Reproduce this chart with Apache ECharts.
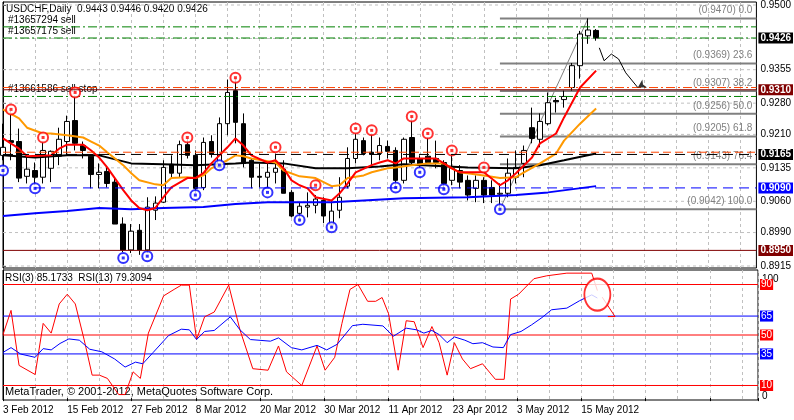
<!DOCTYPE html>
<html>
<head>
<meta charset="utf-8">
<script src="https://cdn.jsdelivr.net/npm/echarts@6/dist/echarts.min.js"></script>
<style>
  html, body { margin: 0; padding: 0; background: #fff; }
  #chart { width: 794px; height: 420px; }
</style>
</head>
<body>
<div id="chart"></div>
<script>
// daily bars, [open, close, low, high], 3 Feb .. 17 May 2012
var candles = [
  [0.9163,0.9181,0.9152,0.9234],[0.9196,0.9192,0.9152,0.9263],[0.9194,0.9112,0.9103,0.9223],
  [0.9116,0.9132,0.9100,0.9158],[0.9129,0.9114,0.9096,0.9147],[0.9114,0.9174,0.9100,0.9192],
  [0.9134,0.9172,0.9103,0.9174],[0.9161,0.9199,0.9141,0.9225],[0.9194,0.9239,0.9163,0.9252],
  [0.9241,0.9190,0.9174,0.9297],[0.9185,0.9174,0.9156,0.9194],[0.9161,0.9120,0.9089,0.9161],
  [0.9120,0.9125,0.9089,0.9145],[0.9127,0.9100,0.9091,0.9136],[0.9103,0.9009,0.9009,0.9114],
  [0.9009,0.8951,0.8946,0.9024],[0.8951,0.8993,0.8944,0.9009],[0.8995,0.8951,0.8940,0.9009],
  [0.8951,0.9047,0.8944,0.9069],[0.9040,0.9056,0.9018,0.9071],[0.9058,0.9136,0.9056,0.9152],
  [0.9143,0.9123,0.9114,0.9163],[0.9123,0.9187,0.9114,0.9196],[0.9187,0.9163,0.9156,0.9203],
  [0.9163,0.9089,0.9078,0.9174],[0.9091,0.9192,0.9085,0.9203],[0.9194,0.9165,0.9158,0.9208],
  [0.9136,0.9234,0.9134,0.9248],[0.9234,0.9304,0.9208,0.9333],[0.9308,0.9237,0.9190,0.9337],
  [0.9234,0.9145,0.9136,0.9257],[0.9152,0.9114,0.9089,0.9156],[0.9116,0.9114,0.9091,0.9145],
  [0.9114,0.9125,0.9091,0.9145],[0.9125,0.9134,0.9100,0.9167],[0.9132,0.9078,0.9078,0.9152],
  [0.9080,0.9027,0.9024,0.9085],[0.9033,0.9049,0.9013,0.9058],[0.9047,0.9051,0.9024,0.9080],
  [0.9051,0.9065,0.9033,0.9074],[0.9062,0.9027,0.9011,0.9069],[0.9007,0.9038,0.9000,0.9062],
  [0.9040,0.9069,0.9022,0.9114],[0.9094,0.9156,0.9089,0.9181],[0.9156,0.9199,0.9145,0.9212],
  [0.9196,0.9167,0.9163,0.9203],[0.9170,0.9165,0.9136,0.9212],[0.9167,0.9185,0.9152,0.9203],
  [0.9183,0.9172,0.9156,0.9196],[0.9174,0.9107,0.9091,0.9181],[0.9107,0.9199,0.9100,0.9203],
  [0.9203,0.9147,0.9141,0.9252],[0.9156,0.9143,0.9134,0.9163],[0.9161,0.9147,0.9145,0.9203],
  [0.9156,0.9147,0.9134,0.9196],[0.9147,0.9100,0.9089,0.9152],[0.9107,0.9134,0.9096,0.9163],
  [0.9129,0.9103,0.9089,0.9141],[0.9107,0.9074,0.9062,0.9118],[0.9089,0.9107,0.9058,0.9118],
  [0.9107,0.9074,0.9056,0.9114],[0.9091,0.9074,0.9056,0.9107],[0.9076,0.9078,0.9045,0.9100],
  [0.9078,0.9123,0.9069,0.9156],[0.9114,0.9136,0.9100,0.9174],[0.9145,0.9174,0.9114,0.9185],
  [0.9225,0.9201,0.9190,0.9270],[0.9199,0.9239,0.9181,0.9257],[0.9234,0.9281,0.9230,0.9304],
  [0.9286,0.9283,0.9259,0.9292],[0.9288,0.9295,0.9270,0.9308],[0.9315,0.9364,0.9308,0.9370],
  [0.9364,0.9435,0.9335,0.9442],[0.9431,0.9444,0.9413,0.9470],[0.9443,0.9426,0.9420,0.9446]
];
var totalSlots = 95;
var dateTicks = ['3 Feb 2012','15 Feb 2012','27 Feb 2012','8 Mar 2012','20 Mar 2012',
  '30 Mar 2012','11 Apr 2012','23 Apr 2012','3 May 2012','15 May 2012'];

// moving averages, [bar, price]
var maRed = [[0,.9201],[2,.9178],[3,.9161],[6,.9163],[7,.9178],[8,.9187],[10,.9187],[11,.9174],
  [12,.9158],[13,.9136],[15,.9085],[16,.9062],[17,.9045],[18,.9040],[19,.9045],[20,.9069],
  [21,.9091],[23,.9112],[24,.9112],[25,.9123],[26,.9145],[28,.9181],[29,.9201],[30,.9185],
  [31,.9163],[33,.9147],[34,.9152],[35,.9134],[36,.9107],[37,.9096],[38,.9089],[39,.9069],
  [41,.9062],[42,.9078],[43,.9100],[44,.9125],[46,.9141],[47,.9147],[48,.9152],[49,.9145],
  [50,.9156],[52,.9156],[54,.9156],[55,.9145],[56,.9134],[57,.9125],[60,.9125],[62,.9096],
  [63,.9107],[64,.9123],[66,.9158],[67,.9190],[69,.9212],[70,.9248],[72,.9315],[74,.9353]];
var maOrange = [[0,.9266],[2,.9246],[3,.9225],[5,.9212],[6,.9212],[8,.9208],[10,.9203],[11,.9194],
  [12,.9185],[13,.9170],[15,.9141],[16,.9123],[17,.9107],[19,.9098],[20,.9096],[21,.9112],
  [23,.9114],[24,.9112],[25,.9118],[26,.9134],[28,.9152],[29,.9163],[30,.9161],[31,.9156],
  [34,.9147],[35,.9129],[37,.9116],[39,.9112],[41,.9094],[42,.9096],[43,.9112],[45,.9118],
  [46,.9125],[48,.9134],[49,.9136],[51,.9141],[53,.9145],[55,.9145],[56,.9134],[57,.9125],
  [60,.9118],[62,.9112],[64,.9114],[65,.9125],[67,.9145],[69,.9167],[70,.9196],[72,.9234],[74,.9268]];
var maBlack = [[0,.9163],[4,.9158],[8,.9163],[12,.9163],[14,.9154],[16,.9145],[20,.9143],[24,.9141],
  [29,.9145],[31,.9147],[35,.9145],[39,.9134],[43,.9134],[47,.9138],[50,.9143],[58,.9136],
  [64,.9134],[67,.9141],[70,.9152],[74,.9167]];
var maBlue = [[0,.9027],[4,.9033],[8,.9038],[12,.9045],[16,.9042],[20,.9045],[25,.9047],[29,.9054],
  [33,.9058],[37,.9058],[41,.9058],[45,.9062],[50,.9067],[58,.9069],[64,.9074],[68,.9080],[74,.9094]];

var fractalUp = [[1,.9266],[5,.9203],[9,.9304],[23,.9203],[29,.9337],[34,.9181],[39,.9096],
  [44,.9223],[46,.9219],[51,.9250],[53,.9212],[56,.9174],[60,.9136]];
var fractalDown = [[0,.9129],[4,.9089],[15,.8933],[18,.8937],[24,.9074],[27,.9141],[33,.9080],
  [37,.9018],[41,.9002],[49,.9091],[52,.9125],[55,.9087],[62,.9042]];

var priceTicks = [0.9500,0.9425,0.9355,0.9280,0.9210,0.9135,0.9060,0.8990,0.8915];
var fibPrices = [0.9470,0.9369,0.9307,0.9256,0.9205,0.9143,0.9042];
var fibLevels = ['0.0','23.6','38.2','50.0','61.8','76.4','100.0'];
var fibFrom = 62, fibTo = 94;
var trendLine = [[62, 0.9042], [73, 0.9470]];
var handArrow = [[74.4,.9404],[75,.9375],[75.9,.9390],[76.8,.9379],[77.7,.9348]];
var handArrowEnd = [79.2,.9315];

var rsi3 = [[0,50.3],[1,69.5],[2,25.9],[4,18.7],[5,59.2],[6,51.5],[7,74.6],[8,82.3],[9,74.6],
  [10.1,46.4],[11.1,18.2],[12,18.2],[13,15.6],[14.4,2.8],[15.2,2.8],[16.2,20.8],[17.1,15.6],
  [18.1,51.5],[20,81],[21.3,86.1],[22.2,89.5],[23.2,89.5],[24.1,46.4],[25.1,64.4],[26.3,68.2],
  [28.1,89.5],[29.5,54.1],[31.1,23.3],[33,22.1],[34.3,41.3],[35.3,20.8],[37.2,10],[39.1,41.3],
  [40.1,22.1],[41.3,32.3],[42.2,59.2],[43.2,86.1],[44.2,90],[45.4,76.7],[46.4,76.7],[47.2,79.7],
  [48,66.9],[49.2,22.1],[50.2,61.3],[51.2,60.5],[52.3,40],[53.4,56.7],[54.3,43.9],[55.3,18.2],
  [56.2,43.9],[57.2,31],[58.2,23.3],[59.7,27.2],[61.3,14.9],[62.4,14.9],[63.2,78.5],[64.2,82.3],
  [66.1,94.6],[67.7,96.9],[70.2,99],[73.3,99],[74,85.2]];
var rsi13 = [[0,36.2],[1,40],[2.2,34.9],[4,32.3],[5,39.2],[6,38.2],[7.1,43.3],[8.2,46.9],[9.5,45.9],
  [10.8,38.7],[12.3,36.7],[13.9,31],[15.2,24.6],[16.5,28.5],[17.4,27.2],[18.7,36.2],[20.6,49.5],
  [22.2,54.6],[23.2,54.1],[24.1,46.4],[25.1,52.8],[26.3,53.6],[28.3,64.4],[29.5,54.1],[30.8,46.4],
  [33.3,45.1],[34.3,47.7],[35.9,40],[37.2,38.2],[39.1,41.8],[40.3,38.2],[41.6,42.6],[43.5,57.4],
  [44.8,58.5],[47.3,57.2],[48.6,49],[50.2,55.4],[51.5,54.1],[52.4,51.5],[53.4,53.6],[54.3,50.3],
  [55.3,43.9],[56.2,48.5],[57.5,45.9],[58.5,43.1],[59.7,43.9],[61,40.5],[62.3,40],[63.2,50.3],
  [64.5,52.8],[65.8,58],[67.1,63.8],[68.3,70],[70.2,71.3],[71.8,77.2],[73.3,81.8],[74,79.3]];
var rsiLevels = [90, 65, 50, 35, 10];
var rsiLevelColors = ['#ff0000','#0000ff','#ff0000','#0000ff','#ff0000'];

var FONT = 'Liberation Sans';
var DASHDOT = [9, 3, 2, 3];
var NO_HIDE = { hideOverlap: false, moveOverlap: null };
var chart = echarts.init(document.getElementById('chart'));

var cats = [];
for (var i = 0; i < totalSlots; i++) cats.push(String(i));

// horizontal line across the price panel, drawn as a two-point line series
function hLine(v, color, dash, width, box, z) {
  var s = {
    type: 'line', xAxisIndex: 1, yAxisIndex: 0, data: [[0, v], [totalSlots - 1, v]],
    showSymbol: false, silent: true, clip: false, z: z || 2, animation: false, labelLayout: NO_HIDE,
    lineStyle: { color: color, type: dash, width: width }
  };
  if (box) {
    s.endLabel = { show: true, distance: 2, formatter: box.text,
      backgroundColor: box.bg || 'transparent', color: box.fg || '#fff', padding: [1, 2, 0, 2],
      fontSize: 10, fontWeight: box.bold ? 'bold' : 'normal', fontFamily: FONT };
  }
  return s;
}

var series = [];
priceTicks.forEach(function (t) {
  series.push(hLine(t, '#c0c0c0', [3, 3], 1, null, 1));
});
series.push(
  hLine(0.9451, '#008000', DASHDOT, 1, null, 5),
  hLine(0.9426, '#008000', DASHDOT, 1, { text: '0.9426', bg: '#000000', bold: true }, 9),
  hLine(0.9315, '#ff4500', DASHDOT, 1, null, 5),
  hLine(0.9310, '#800000', 'solid', 1, { text: '0.9310', bg: '#800000', bold: true }, 9),
  hLine(0.9295, '#008000', DASHDOT, 1, null, 5),
  hLine(0.9170, '#ff4500', [8, 4], 1, null, 5),
  hLine(0.9165, '#000000', [10, 6], 1, { text: '0.9165', bg: '#000000', bold: true }, 9),
  hLine(0.9090, '#0000ff', [10, 6], 1, { text: '0.9090', bg: '#0000ff', bold: true }, 9),
  hLine(0.8950, '#800000', 'solid', 1, { text: '0.8950', bg: '#800000', bold: true }, 9)
);

fibPrices.forEach(function (p, k) {
  series.push({
    type: 'line', xAxisIndex: 1, yAxisIndex: 0, data: [[fibFrom, p], [fibTo, p]], clip: false,
    showSymbol: false, silent: true, z: 2, lineStyle: { color: '#808080', width: 2 }, labelLayout: NO_HIDE,
    endLabel: { show: true, formatter: '(' + p.toFixed(4) + ') ' + fibLevels[k], align: 'right',
      offset: [-4, -8], distance: 0, color: '#808080', fontSize: 10, fontFamily: FONT }
  });
});

function lineSeries(data, color, width, xi, yi, z) {
  return { type: 'line', xAxisIndex: xi, yAxisIndex: yi, data: data, showSymbol: false,
    lineStyle: { color: color, width: width }, z: z, silent: true };
}

series.push(
  lineSeries(trendLine, '#808080', 1, 1, 0, 2),
  {
    type: 'candlestick', xAxisIndex: 0, yAxisIndex: 0, data: candles, barWidth: 5, z: 3,
    itemStyle: { color: '#ffffff', color0: '#000000', borderColor: '#000000', borderColor0: '#000000', borderWidth: 1 }
  },
  lineSeries(maBlue, '#0000ff', 2, 1, 0, 4),
  lineSeries(maBlack, '#000000', 2, 1, 0, 4),
  lineSeries(maOrange, '#ff9900', 2, 1, 0, 4),
  lineSeries(maRed, '#ff0000', 2, 1, 0, 4),
  lineSeries(handArrow.concat([handArrowEnd]), '#000000', 1, 1, 0, 8)
);
// arrow head on the hand-drawn path
series.push({
  type: 'scatter', xAxisIndex: 1, yAxisIndex: 0, data: [handArrowEnd], symbol: 'arrow',
  symbolSize: [7, 8], symbolRotate: 120, itemStyle: { color: '#000' }, z: 8, silent: true
});

function fractalSeries(data, color) {
  return [{
    type: 'scatter', xAxisIndex: 1, yAxisIndex: 0, data: data, symbol: 'emptyCircle',
    symbolSize: 10, itemStyle: { color: color, borderColor: color, borderWidth: 1.5 }, z: 6, silent: true
  }, {
    type: 'scatter', xAxisIndex: 1, yAxisIndex: 0, data: data, symbol: 'rect',
    symbolSize: 3, itemStyle: { color: color }, z: 7, silent: true
  }];
}
series = series.concat(fractalSeries(fractalUp, '#ff0000'), fractalSeries(fractalDown, '#0000ff'));

// RSI panel
rsiLevels.forEach(function (lv, k) {
  series.push({
    type: 'line', xAxisIndex: 3, yAxisIndex: 1, data: [[0, lv], [totalSlots - 1, lv]], clip: false,
    showSymbol: false, silent: true, z: 2, lineStyle: { color: rsiLevelColors[k], width: 1 }, labelLayout: NO_HIDE,
    endLabel: { show: true, distance: 2, formatter: String(lv), backgroundColor: rsiLevelColors[k],
      color: '#fff', padding: [1, 1, 0, 1], fontSize: 10, fontFamily: FONT }
  });
});
series.push(
  lineSeries(rsi3, '#ff0000', 1, 3, 1, 4),
  lineSeries(rsi13, '#0000ff', 1, 3, 1, 4),
  {
    type: 'scatter', xAxisIndex: 3, yAxisIndex: 1, data: [[74, 82]], symbol: 'emptyCircle',
    symbolSize: [26, 32], itemStyle: { color: '#ff0000', borderColor: '#ff0000', borderWidth: 1 },
    z: 6, silent: true
  },
  lineSeries([[74.6, 80], [76.2, 64.6], [75.3, 64.6]], '#ff0000', 1, 3, 1, 6)
);

var option = {
  animation: false,
  backgroundColor: '#ffffff',
  textStyle: { fontFamily: FONT },
  grid: [
    { left: 3, right: 36, top: 1, height: 267, show: true, borderColor: '#000', borderWidth: 1 },
    { left: 3, right: 36, top: 270, height: 130, show: true, borderColor: '#000', borderWidth: 1 }
  ],
  xAxis: [
    { type: 'category', gridIndex: 0, data: cats, boundaryGap: false,
      axisLine: { show: false }, axisTick: { show: false }, axisLabel: { show: false },
      splitLine: { show: true, interval: 3, lineStyle: { color: '#c0c0c0', type: [3, 3] } } },
    { type: 'value', gridIndex: 0, min: 0, max: totalSlots - 1, show: false },
    { type: 'category', gridIndex: 1, data: cats, boundaryGap: false,
      axisLine: { show: false },
      axisTick: { show: true, interval: 7, length: 3, lineStyle: { color: '#000' } },
      axisLabel: { show: true, interval: 0, align: 'left', margin: 5, color: '#000', fontSize: 10,
        fontFamily: FONT,
        formatter: function (v, idx) { return idx % 8 === 0 && dateTicks[idx / 8] ? dateTicks[idx / 8] : ''; } },
      splitLine: { show: true, interval: 3, lineStyle: { color: '#c0c0c0', type: [3, 3] } } },
    { type: 'value', gridIndex: 1, min: 0, max: totalSlots - 1, show: false }
  ],
  yAxis: [
    { type: 'value', gridIndex: 0, position: 'right', min: 0.89105, max: 0.95067,
      axisLine: { show: true, lineStyle: { color: '#000' } },
      axisTick: { show: true, length: 3, customValues: priceTicks, lineStyle: { color: '#000' } },
      axisLabel: { show: true, customValues: priceTicks, margin: 4, color: '#000', fontSize: 10,
        fontFamily: FONT, showMinLabel: true, showMaxLabel: true,
        formatter: function (v) { return v.toFixed(4); } },
      splitLine: { show: false } },
    { type: 'value', gridIndex: 1, position: 'right', min: -1.5, max: 101.5,
      axisLine: { show: true, lineStyle: { color: '#000' } }, axisTick: { show: false },
      axisLabel: { show: false }, splitLine: { show: false } }
  ],
  graphic: [
    { type: 'text', left: 6, top: 4, style: { text: 'USDCHF,Daily  0.9443 0.9446 0.9420 0.9426', fontSize: 10, fontFamily: FONT, fill: '#000' } },
    { type: 'text', left: 8, top: 15, style: { text: '#13657294 sell', fontSize: 10, fontFamily: FONT, fill: '#000' } },
    { type: 'text', left: 8, top: 26, style: { text: '#13657175 sell', fontSize: 10, fontFamily: FONT, fill: '#000' } },
    { type: 'text', left: 8, top: 84, style: { text: '#13661586 sell stop', fontSize: 10, fontFamily: FONT, fill: '#000' } },
    { type: 'text', left: 5, top: 273, style: { text: 'RSI(3) 85.1733  RSI(13) 79.3094', fontSize: 10, fontFamily: FONT, fill: '#000' } },
    { type: 'text', left: 5, top: 386, style: { text: 'MetaTrader, \u00a9 2001-2012, MetaQuotes Software Corp.', fontSize: 11, fontFamily: FONT, fill: '#000' } },
    { type: 'text', left: 762, top: 274, style: { text: '100', fontSize: 10, fontFamily: FONT, fill: '#000' } },
    { type: 'text', left: 762, top: 391, style: { text: '0', fontSize: 10, fontFamily: FONT, fill: '#000' } }
  ],
  series: series
};
chart.setOption(option);
</script>
</body>
</html>
